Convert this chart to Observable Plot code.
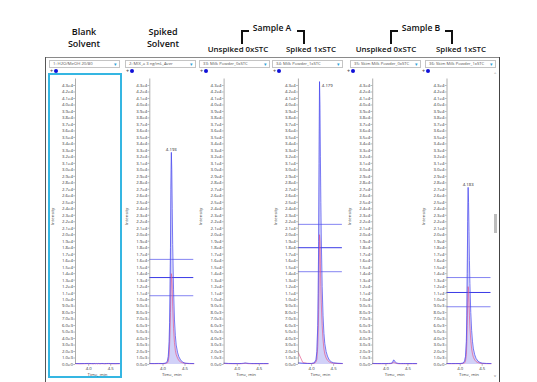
<!DOCTYPE html>
<html><head><meta charset="utf-8">
<script src="https://cdn.jsdelivr.net/npm/d3@7"></script>
<script src="https://cdn.jsdelivr.net/npm/@observablehq/plot@0.6"></script>
<style>
html,body{margin:0;padding:0;background:#fff;}
#root{position:relative;width:537px;height:382px;overflow:hidden;font-family:"Open Sans",sans-serif;background:#fff;}
.hd{position:absolute;font-weight:600;color:#111;white-space:nowrap;transform:translateX(-50%);line-height:1;}
.br{position:absolute;background:#111;}
.dd{position:absolute;top:60px;height:7.5px;width:71px;border:0.7px solid #c4c4c4;box-sizing:border-box;font-size:4.2px;color:#555;line-height:6px;padding-left:3px;white-space:nowrap;overflow:hidden;background:#fff;}
.dd .ar{position:absolute;right:2px;top:0px;color:#2a9fd6;font-size:5px;line-height:6px;}
.ic{position:absolute;top:68.5px;font-size:5.5px;font-weight:700;color:#555;line-height:5px;white-space:nowrap;}
.ic b{display:inline-block;width:4px;height:4px;border-radius:50%;background:#1010d8;vertical-align:middle;margin-left:0.5px;}
#chart{position:absolute;left:0;top:74px;}
</style>
</head><body>
<div id="root"></div>
<script>
// ---------- data ----------
const panelKeys = ["1", "2", "33", "34", "35", "36"];
const panelNames = ["1: H2O/MeOH 20/80", "2: MIX_a 3 ng/mL_Aver", "33: Milk Powder_0xSTC", "34: Milk Powder_1xSTC", "35: Skim Milk Powder_0xSTC", "36: Skim Milk Powder_1xSTC"];

const times = [3.70, 3.80, 3.90, 4.00, 4.06, 4.10, 4.12, 4.14, 4.15, 4.16, 4.17, 4.18, 4.19, 4.20, 4.21, 4.22, 4.24, 4.26, 4.28, 4.30, 4.33, 4.36, 4.40, 4.45, 4.50, 4.60, 4.70];

const blankMain        = [150,140,150,160,150,140,150,160,150,140,150,160,150,140,150,160,150,140,150,160,150,140,150,160,150,140,150];
const blankQual        = [120,110,120,130,120,110,120,130,120,110,120,130,120,110,120,130,120,110,120,130,120,110,120,130,120,110,120];
const spikedSolvMain   = [150,150,160,150,200,500,1200,3500,6500,11000,18000,27000,32700,30000,24000,18500,11500,7000,4500,3000,1900,1200,700,350,200,160,150];
const spikedSolvQual   = [130,120,130,130,150,250,500,1500,3000,5000,8000,11500,14000,13500,11500,9000,5500,3400,2200,1500,1000,600,400,250,180,130,120];
const milk0Main        = [200,160,150,150,150,160,170,180,190,200,210,220,220,210,200,190,180,170,160,160,150,150,150,150,150,150,150];
const milk0Qual        = [150,130,120,120,120,130,140,150,160,170,170,180,180,170,160,150,140,130,130,120,120,120,120,120,120,120,120];
const milk1Main        = [250,180,160,160,250,700,2000,6000,11000,19000,31000,43600,40000,32000,25000,19500,12000,7500,4800,3200,2000,1300,700,400,250,180,160];
const milk1Qual        = [1800,300,180,150,180,400,800,2800,5000,8500,14000,20000,19000,15500,12000,9500,6000,3800,2400,1600,1000,650,400,250,180,150,140];
const skim0Main        = [160,150,150,150,160,170,180,250,330,450,600,700,650,500,400,350,250,200,170,160,150,150,150,150,150,150,150];
const skim0Qual        = [130,120,120,120,130,140,150,180,220,260,300,320,300,260,220,200,160,140,130,120,120,120,120,120,120,120,120];
const skim1Main        = [150,150,150,150,200,500,1200,3500,7500,14000,22000,27300,25000,20500,16000,12500,8000,5200,3500,2400,1500,950,550,300,200,160,150];
const skim1Qual        = [130,120,130,130,150,250,500,1500,3200,6000,9500,12000,11500,9500,7500,5800,3700,2400,1600,1100,700,450,300,200,150,130,120];

const mainSeries = [blankMain, spikedSolvMain, milk0Main, milk1Main, skim0Main, skim1Main];
const qualSeries = [blankQual, spikedSolvQual, milk0Qual, milk1Qual, skim0Qual, skim1Qual];

const rulePanels = ["2", "2", "2", "34", "34", "34", "36", "36", "36"];
const ruleValues = [16200, 13400, 10600, 21600, 18000, 14300, 13400, 11100, 8900];
const ruleCenter = [false, true, false, false, true, false, false, true, false];

const labelPanels = ["2", "34", "36"];
const labelTimes  = [4.19, 4.18, 4.18];
const labelValues = [32700, 43600, 27300];
const labelTexts  = ["4.193", "4.179", "4.183"];

const yTicks = [0,1000,2000,3000,4000,5000,6000,7000,8000,9000,10000,11000,12000,13000,14000,15000,16000,17000,18000,19000,20000,21000,22000,23000,24000,25000,26000,27000,28000,29000,30000,31000,32000,33000,34000,35000,36000,37000,38000,39000,40000,41000,42000,43000];
const xTicks = [4.0, 4.5];
const xDomain = [3.7, 4.7];
const yDomain = [0, 43000];

// headers
const headTop = [
  {t: "Blank", x: 84, base: 35, f: 9}, {t: "Solvent", x: 84, base: 47, f: 9},
  {t: "Spiked", x: 163, base: 34.5, f: 9}, {t: "Solvent", x: 163, base: 46.5, f: 9},
  {t: "Sample A", x: 272, base: 31.7, f: 8.6}, {t: "Sample B", x: 421, base: 31.7, f: 8.6},
  {t: "Unspiked 0xSTC", x: 238, base: 53, f: 7.9}, {t: "Spiked 1xSTC", x: 311, base: 53, f: 7.9},
  {t: "Unspiked 0xSTC", x: 386, base: 53, f: 7.9}, {t: "Spiked 1xSTC", x: 461, base: 53, f: 7.9}
];

// ---------- chrome ----------
const root = document.getElementById("root");
function box(css, cls, html) {
  const d = document.createElement("div");
  if (cls) d.className = cls;
  d.style.cssText = css;
  if (html) d.innerHTML = html;
  root.appendChild(d);
  return d;
}
headTop.forEach(h => {
  box(`left:${h.x}px;top:${h.base - 0.888 * h.f}px;font-size:${h.f}px;`, "hd").textContent = h.t;
});
// brackets
[[240.5,32,2,11.5],[240.5,29.5,8,2],[297,29.5,8,2],[303,29.5,2,14],
 [390,32,2,11.5],[390,29.5,8,2],[445,29.5,8,2],[451,29.5,2,14]].forEach(([l,t,w,h]) =>
  box(`left:${l}px;top:${t}px;width:${w}px;height:${h}px;`, "br"));
// frame
box("left:45px;top:57px;width:455px;height:1px;background:#8a8a8a;position:absolute;");
box("left:44.5px;top:57px;width:1.2px;height:330px;background:#555;position:absolute;");
box("left:498.5px;top:57px;width:1.8px;height:330px;background:#444;position:absolute;");
// scrollbar
box("left:494px;top:72px;font-size:4px;color:#666;line-height:4px;position:absolute;", null, "^");
box("left:494.2px;top:214px;width:3px;height:19px;background:#bdbdbd;position:absolute;");
box("left:494px;top:374px;font-size:4px;color:#666;line-height:4px;position:absolute;", null, "v");
// selected panel outline
box("left:47.5px;top:72.5px;width:74px;height:305px;border:2px solid #35b6e2;box-sizing:border-box;position:absolute;");
// dropdowns and icons
const ddLeft = [49, 125, 199, 272, 350, 425];
const icLeft = [50, 126, 200, 273, 347, 422];
panelNames.forEach((n, i) => {
  const d = box(`left:${ddLeft[i]}px;`, "dd");
  d.textContent = n;
  const a = document.createElement("span"); a.className = "ar"; a.textContent = "▾"; d.appendChild(a);
  box(`left:${icLeft[i]}px;`, "ic", "+<b></b>");
});

// ---------- chart ----------
const rows = [];
panelKeys.forEach((k, i) => times.forEach((t, j) => rows.push({panel: k, t, main: mainSeries[i][j], qual: qualSeries[i][j]})));
const rules = rulePanels.map((p, i) => ({panel: p, v: ruleValues[i], center: ruleCenter[i]}));
const labels = labelPanels.map((p, i) => ({panel: p, t: labelTimes[i], v: labelValues[i], text: labelTexts[i]}));
const fmtY = v => d3.format(".1e")(v).replace("+", "");

const chart = Plot.plot({
  width: 537, height: 308,
  marginLeft: 75, marginRight: 46.5, marginTop: 11, marginBottom: 18,
  style: {background: "transparent", fontFamily: "Open Sans, sans-serif", fontSize: "4.3px", overflow: "visible", color: "#333"},
  fx: {domain: panelKeys, paddingInner: 0.408, paddingOuter: 0, axis: null, round: false, label: null},
  x: {domain: xDomain},
  y: {domain: yDomain},
  marks: [
    Plot.areaY(rows, {fx: "panel", x: "t", y: "main", fill: "#b3b3f3", fillOpacity: 0.6}),
    Plot.ruleY(rules.filter(d => !d.center), {fx: "panel", y: "v", stroke: "#8585f2", strokeWidth: 1}),
    Plot.ruleY(rules.filter(d => d.center), {fx: "panel", y: "v", stroke: "#3a3ae6", strokeWidth: 1}),
    Plot.lineY(rows, {fx: "panel", x: "t", y: "qual", stroke: "#e4568f", strokeWidth: 0.8, strokeOpacity: 0.85}),
    Plot.lineY(rows, {fx: "panel", x: "t", y: "main", stroke: "#4343ee", strokeWidth: 0.8, strokeOpacity: 0.9}),
    Plot.ruleX(panelKeys, {fx: d => d, x: xDomain[0], y1: yDomain[0], y2: 44000, stroke: "#777", strokeWidth: 0.6}),
    Plot.axisY({facetAnchor: null, ticks: yTicks, tickFormat: fmtY, tickSize: 1.8, tickPadding: 0.8, fontSize: 4.3, label: null, stroke: "#777", strokeWidth: 0.5}),
    Plot.axisX({ticks: xTicks, tickFormat: ".1f", tickSize: 1.8, tickPadding: 0.8, fontSize: 4.3, label: null, stroke: "#777", strokeWidth: 0.5}),
    Plot.text(panelKeys, {fx: d => d, text: d => "Intensity", frameAnchor: "left", rotate: -90, dx: -23, fontSize: 4.3, fill: "#444"}),
    Plot.text(panelKeys, {fx: d => d, text: d => "Time, min", frameAnchor: "bottom", dy: 11, fontSize: 4.3, fill: "#444"}),
    Plot.text(labels.filter(d => d.panel !== "34"), {fx: "panel", x: "t", y: "v", text: "text", dy: -3, fontSize: 4.3, fill: "#222"}),
    Plot.text(labels.filter(d => d.panel === "34"), {fx: "panel", x: "t", y: "v", text: "text", dx: 2.3, dy: 4, textAnchor: "start", fontSize: 4.3, fill: "#222"})
  ]
});
chart.id = "chart";
root.appendChild(chart);
</script>
</body></html>
